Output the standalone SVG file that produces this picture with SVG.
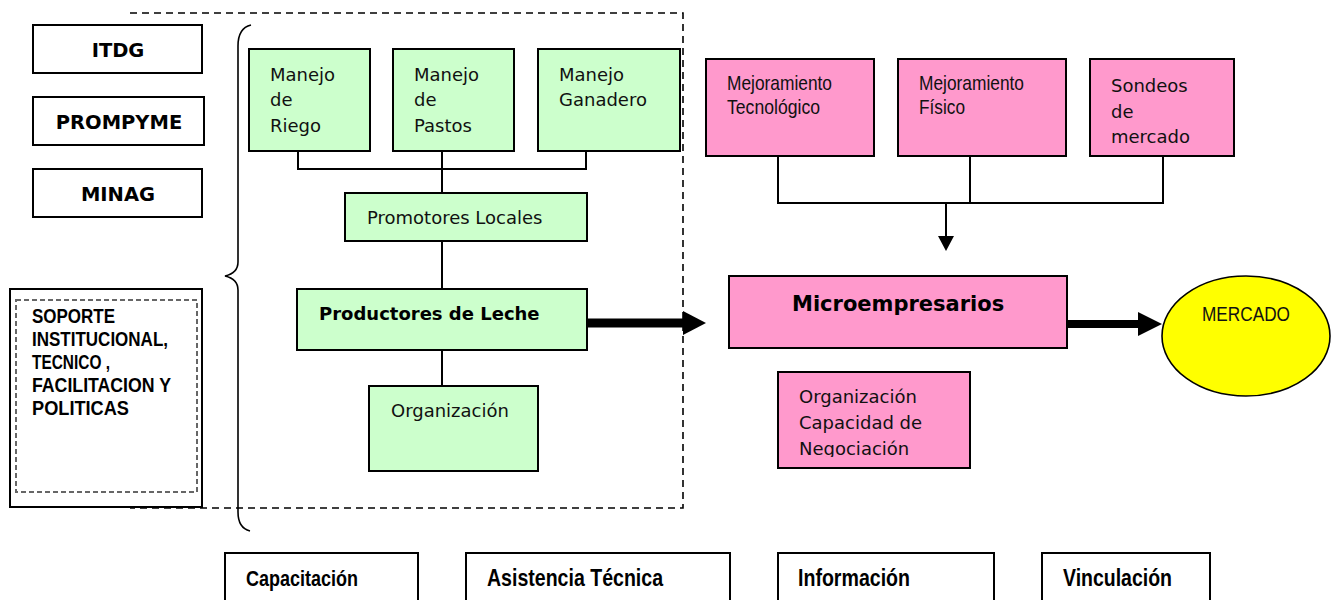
<svg xmlns="http://www.w3.org/2000/svg" width="1332" height="600" viewBox="0 0 1332 600">
<style>
.box{stroke:#000;stroke-width:2}
.w{fill:#fff}
.g{fill:#CCFFCC}
.p{fill:#FF99CC}
.t{font-family:"DejaVu Sans",Verdana,sans-serif;font-size:18px;fill:#111}
.tb{font-family:"DejaVu Sans",Verdana,sans-serif;font-weight:bold;fill:#000}
.n{font-family:"Liberation Sans",Arial,sans-serif;fill:#111}
.nb{font-family:"Liberation Sans",Arial,sans-serif;font-weight:bold;fill:#000}
.conn{stroke:#000;stroke-width:2;fill:none}
.dash{stroke:#000;stroke-width:1.6;fill:none;stroke-dasharray:7 5}
</style>
<defs>
<clipPath id="clipOrgP"><rect x="779" y="373" width="190" height="84"/></clipPath>
</defs>

<!-- dashed frame and brace -->
<g id="frame">
<path class="dash" d="M130 13 H683 V508 H130"/>
<path d="M251 25 Q238 28 238 46 L238 262 Q238 273 225 276 Q238 279 238 290 L238 512 Q238 528 250 531" fill="none" stroke="#000" stroke-width="1.6"/>
</g>

<g id="connectors">
<path class="conn" d="M298 145 V169 H586 V145"/>
<path class="conn" d="M442 145 V193"/>
<path class="conn" d="M442 241 V289"/>
<path class="conn" d="M442 337 V386"/>
<line x1="587" y1="323" x2="686" y2="323" stroke="#000" stroke-width="9"/>
<polygon points="683,311 706,323 683,335" fill="#000"/>
<path class="conn" d="M778 156 V203 H1163 V156"/>
<path class="conn" d="M970 156 V203"/>
<path class="conn" d="M946 203 V238"/>
<polygon points="938,236 954,236 946,251" fill="#000"/>
<line x1="1067" y1="324" x2="1140" y2="324" stroke="#000" stroke-width="8"/>
<polygon points="1138,312 1162,324 1138,336" fill="#000"/>
</g>

<g id="itdg"><rect class="box w" x="33" y="25" width="169" height="48"/><text class="tb" x="118" y="57" font-size="19.5" text-anchor="middle">ITDG</text></g>
<g id="prompyme"><rect class="box w" x="33" y="97" width="171" height="48"/><text class="tb" x="119" y="129" font-size="19.5" text-anchor="middle">PROMPYME</text></g>
<g id="minag"><rect class="box w" x="33" y="169" width="169" height="48"/><text class="tb" x="118" y="201" font-size="19.5" text-anchor="middle">MINAG</text></g>

<g id="soporte">
<rect class="box w" x="10" y="289" width="192" height="218"/>
<rect x="16" y="300" width="181" height="192" fill="none" stroke="#666" stroke-width="2" stroke-dasharray="5 3"/>
<text class="nb" font-size="21"><tspan x="32" y="323" textLength="83" lengthAdjust="spacingAndGlyphs">SOPORTE</tspan><tspan x="32" y="346" textLength="136" lengthAdjust="spacingAndGlyphs">INSTITUCIONAL,</tspan><tspan x="32" y="369" textLength="78" lengthAdjust="spacingAndGlyphs">TECNICO ,</tspan><tspan x="32" y="392" textLength="139" lengthAdjust="spacingAndGlyphs">FACILITACION Y</tspan><tspan x="32" y="415" textLength="97" lengthAdjust="spacingAndGlyphs">POLITICAS</tspan></text>
</g>

<g id="riego"><rect class="box g" x="249" y="49" width="121" height="102"/><text class="t"><tspan x="270" y="81">Manejo</tspan><tspan x="270" y="106">de</tspan><tspan x="270" y="132">Riego</tspan></text></g>
<g id="pastos"><rect class="box g" x="393" y="49" width="121" height="102"/><text class="t"><tspan x="414" y="81">Manejo</tspan><tspan x="414" y="106">de</tspan><tspan x="414" y="132">Pastos</tspan></text></g>
<g id="ganadero"><rect class="box g" x="538" y="49" width="142" height="102"/><text class="t"><tspan x="559" y="81">Manejo</tspan><tspan x="559" y="106">Ganadero</tspan></text></g>
<g id="promotores"><rect class="box g" x="345" y="193" width="242" height="48"/><text class="t" x="367" y="224">Promotores Locales</text></g>
<g id="productores"><rect class="box g" x="297" y="289" width="290" height="61"/><text class="tb" x="319" y="320" font-size="18">Productores de Leche</text></g>
<g id="organizacion"><rect class="box g" x="369" y="386" width="169" height="85"/><text class="t" x="391" y="417">Organización</text></g>

<g id="mejtec"><rect class="box p" x="706" y="59" width="168" height="97"/><text class="n" font-size="21"><tspan x="727" y="90" textLength="105" lengthAdjust="spacingAndGlyphs">Mejoramiento</tspan><tspan x="727" y="114" textLength="93" lengthAdjust="spacingAndGlyphs">Tecnológico</tspan></text></g>
<g id="mejfis"><rect class="box p" x="898" y="59" width="168" height="97"/><text class="n" font-size="21"><tspan x="919" y="90" textLength="105" lengthAdjust="spacingAndGlyphs">Mejoramiento</tspan><tspan x="919" y="114" textLength="46" lengthAdjust="spacingAndGlyphs">Físico</tspan></text></g>
<g id="sondeos"><rect class="box p" x="1090" y="59" width="144" height="97"/><text class="t"><tspan x="1111" y="92">Sondeos</tspan><tspan x="1111" y="118">de</tspan><tspan x="1111" y="143">mercado</tspan></text></g>

<g id="micro"><rect class="box p" x="729" y="276" width="338" height="72"/><text class="tb" x="792" y="311" font-size="21">Microempresarios</text></g>
<g id="orgcap"><rect class="box p" x="778" y="372" width="192" height="96"/><text class="t" clip-path="url(#clipOrgP)"><tspan x="799" y="403">Organización</tspan><tspan x="799" y="429">Capacidad de</tspan><tspan x="799" y="455">Negociación</tspan></text></g>

<g id="mercado"><ellipse cx="1246" cy="336" rx="84" ry="60" fill="#FFFF00" stroke="#000" stroke-width="1.6"/><text class="n" font-size="20" x="1202" y="321" textLength="88" lengthAdjust="spacingAndGlyphs">MERCADO</text></g>

<g id="capacitacion"><rect class="box w" x="225" y="553" width="193" height="60"/><text class="nb" font-size="22" x="246" y="586" textLength="112" lengthAdjust="spacingAndGlyphs">Capacitación</text></g>
<g id="asistencia"><rect class="box w" x="466" y="553" width="264" height="60"/><text class="nb" font-size="24" x="487" y="586" textLength="176" lengthAdjust="spacingAndGlyphs">Asistencia Técnica</text></g>
<g id="informacion"><rect class="box w" x="778" y="553" width="216" height="60"/><text class="nb" font-size="24" x="798" y="586" textLength="112" lengthAdjust="spacingAndGlyphs">Información</text></g>
<g id="vinculacion"><rect class="box w" x="1042" y="553" width="168" height="60"/><text class="nb" font-size="24" x="1063" y="586" textLength="109" lengthAdjust="spacingAndGlyphs">Vinculación</text></g>
</svg>
